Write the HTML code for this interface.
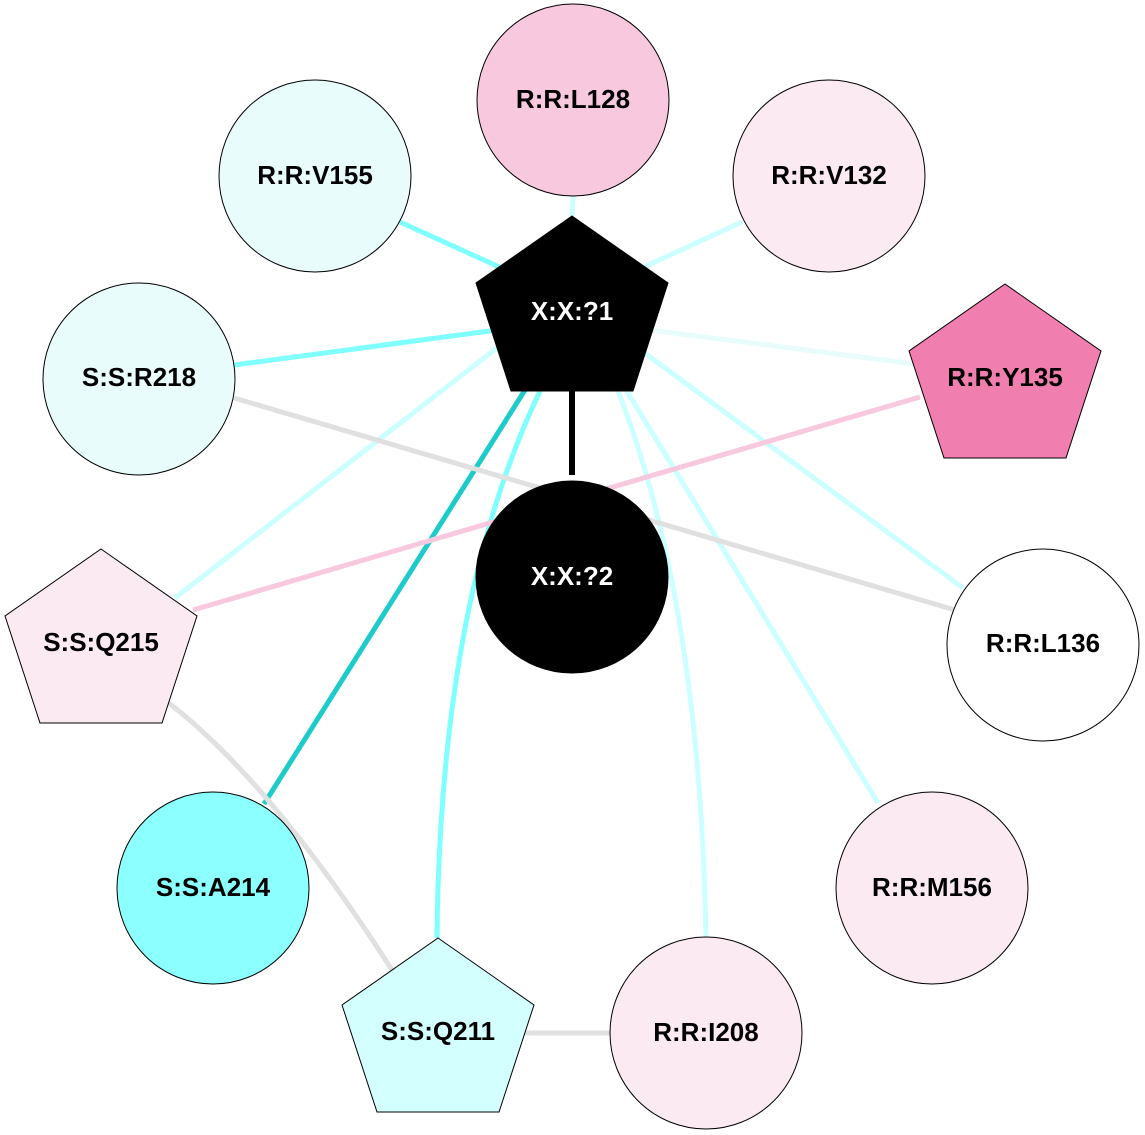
<!DOCTYPE html>
<html><head><style>body{margin:0;background:#fff}svg{display:block}text{font-family:"Liberation Sans",Arial,sans-serif;font-weight:bold;font-size:26px;text-anchor:middle;dominant-baseline:central}</style></head><body>
<svg width="1145" height="1135" viewBox="0 0 1145 1135">
<g fill="none" stroke-width="5">
<line x1="572" y1="216" x2="573" y2="196" stroke="#ccffff"/>
<line x1="572" y1="300" x2="400" y2="222" stroke="#80ffff"/>
<line x1="572" y1="300" x2="742" y2="222" stroke="#ccffff"/>
<line x1="572" y1="320" x2="234" y2="365" stroke="#80ffff"/>
<line x1="572" y1="320" x2="915" y2="364" stroke="#e8fcfc"/>
<line x1="520" y1="330" x2="175" y2="598" stroke="#ccffff"/>
<line x1="525" y1="390" x2="264" y2="804" stroke="#1ecbcb"/>
<line x1="600" y1="320" x2="963" y2="588" stroke="#ccffff"/>
<line x1="620" y1="380" x2="878" y2="803" stroke="#ccffff"/>
<path d="M540 391 Q440 600 437 938" stroke="#80ffff"/>
<path d="M618 391 Q700 600 706 938" stroke="#ccffff"/>
<line x1="234" y1="398" x2="955" y2="610" stroke="#e0e0e0"/>
<line x1="920" y1="397" x2="193" y2="610" stroke="#f8c8de"/>
<path d="M165 700 Q270 780 392 970" stroke="#e0e0e0"/>
<line x1="520" y1="1033" x2="612" y2="1033" stroke="#e0e0e0"/>
<line x1="572" y1="391" x2="572" y2="475" stroke="#000" stroke-width="6"/>
</g>
<g stroke="#000" stroke-width="1">
<circle cx="573" cy="100" r="96" fill="#f8c8de"/>
<circle cx="315" cy="176" r="96" fill="#e8fcfc"/>
<circle cx="829" cy="176" r="96" fill="#fbeaf2"/>
<circle cx="139" cy="379" r="96" fill="#e8fcfc"/>
<circle cx="572" cy="577" r="96" fill="#000"/>
<circle cx="1043" cy="645" r="96" fill="#fff"/>
<circle cx="213" cy="888" r="96" fill="#8cffff"/>
<circle cx="932" cy="888" r="96" fill="#fbeaf2"/>
<circle cx="706" cy="1033" r="96" fill="#fbeaf2"/>
<polygon points="572,216 668,283 633,391 511,391 476,283" fill="#000"/>
<polygon points="1005,284 1101,351 1066,458 944,458 909,351" fill="#f07faf"/>
<polygon points="101,549 197,616 162,723 40,723 5,616" fill="#fbeaf2"/>
<polygon points="438,938 534,1005 499,1112 377,1112 342,1005" fill="#d4ffff"/>
</g>
<text x="573" y="99">R:R:L128</text>
<text x="315" y="175">R:R:V155</text>
<text x="829" y="175">R:R:V132</text>
<text x="572" y="311" fill="#fff">X:X:?1</text>
<text x="139" y="377">S:S:R218</text>
<text x="1005" y="377">R:R:Y135</text>
<text x="572" y="576" fill="#fff">X:X:?2</text>
<text x="101" y="642">S:S:Q215</text>
<text x="1043" y="643">R:R:L136</text>
<text x="213" y="887">S:S:A214</text>
<text x="932" y="887">R:R:M156</text>
<text x="438" y="1031">S:S:Q211</text>
<text x="706" y="1032">R:R:I208</text>
</svg>
</body></html>
